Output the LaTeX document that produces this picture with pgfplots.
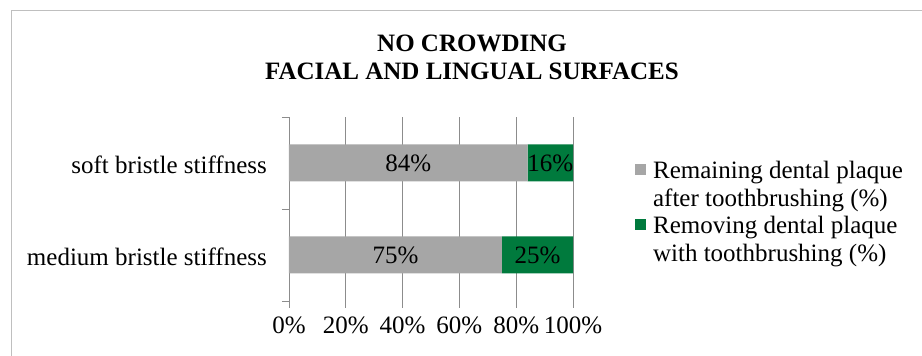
\documentclass[border=0pt]{standalone}
\usepackage{pgfplots}
\pgfplotsset{compat=1.18}
\usepackage{fontspec}
\setmainfont{Liberation Serif}

\definecolor{remaingray}{RGB}{166,166,166}
\definecolor{removegreen}{RGB}{0,122,61}
\definecolor{gridgray}{RGB}{140,140,140}
\definecolor{framegray}{RGB}{191,191,191}

\newcommand{\chartfont}{\fontsize{25}{28}\selectfont}
% two-line legend entry whose baseline is that of its first line
\newcommand{\twolines}[2]{\begin{tabular}[t]{@{}l@{}}#1\\#2\end{tabular}}

\begin{document}
\begin{tikzpicture}[x=1pt,y=1pt]
\useasboundingbox (0,0) rectangle (922,356);
% chart area border (only the top and left edges lie inside the page)
\draw[framegray, line width=1pt] (11,0) -- (11,345.5) -- (922,345.5);

% title
\node[font=\chartfont\bfseries, anchor=base] at (472,304) {NO CROWDING};
\node[font=\chartfont\bfseries, anchor=base] at (472,276) {FACIAL AND LINGUAL SURFACES};

\begin{axis}[
  at={(289pt,55pt)}, anchor=south west,
  scale only axis, width=284pt, height=184pt,
  xbar stacked, bar width=37pt,
  xmin=0, xmax=100, ymin=-0.5, ymax=1.5,
  axis x line*=bottom, axis y line*=left,
  x axis line style={draw=none},
  y axis line style={draw=gridgray, line width=0.8pt},
  tick align=outside, major tick length=7pt,
  xtick={0,20,40,60,80,100},
  xticklabels={0\%,20\%,40\%,60\%,80\%,100\%},
  xmajorgrids, grid style={gridgray, line width=0.8pt},
  x tick style={gridgray, line width=0.8pt},
  ytick={0,1},
  yticklabels={medium bristle stiffness, soft bristle stiffness},
  y tick style={draw=none},
  extra y ticks={-0.5,0.5,1.5},
  extra y tick labels={},
  extra y tick style={y tick style={draw=gridgray, line width=0.8pt}},
  ticklabel style={font=\chartfont, inner sep=0pt},
  yticklabel style={xshift=-15pt, yshift=-2pt},
  xticklabel style={yshift=-9pt},
  /pgf/number format/assume math mode=true,
  % value labels in the middle of each segment
  visualization depends on={rawx \as \rawx},
  nodes near coords={\pgfmathprintnumber{\rawx}\%},
  every node near coord/.append style={anchor=center, font=\chartfont},
  legend style={draw=none, fill=none, at={(axis description cs:1.218,0.775)},
    anchor=north west, inner sep=0pt, row sep=34pt, column sep=7pt,
    font=\chartfont, nodes={inner sep=0pt}},
  legend cell align=left,
  legend image code/.code={\fill[#1] (0pt,-6pt) rectangle (11pt,5pt);},
]
\addplot[fill=remaingray, draw=none] coordinates {(75,0) (84,1)};
\addplot[fill=removegreen, draw=none] coordinates {(25,0) (16,1)};
\legend{\twolines{Remaining dental plaque}{after toothbrushing (\%)},
        \twolines{Removing dental plaque}{with toothbrushing (\%)}}
\end{axis}
\end{tikzpicture}
\end{document}
